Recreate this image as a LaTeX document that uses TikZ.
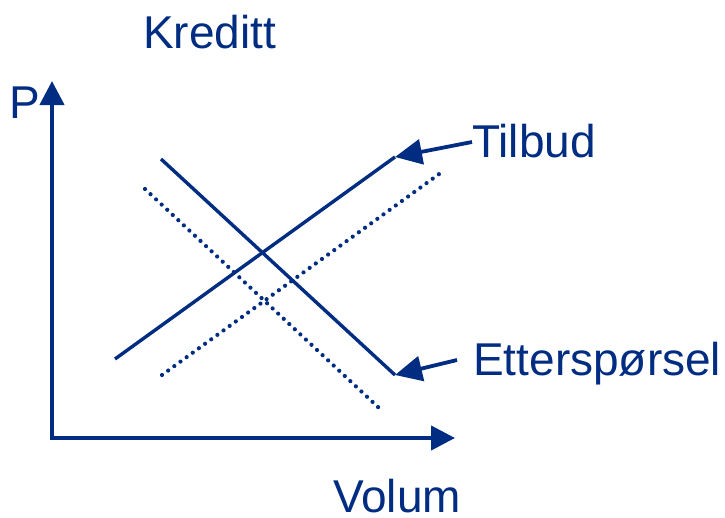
\documentclass[tikz,border=0pt]{standalone}
\usepackage{fontspec}
\setmainfont{Liberation Sans}
\usetikzlibrary{arrows.meta}
\definecolor{navy}{RGB}{0,44,130}
\begin{document}
\begin{tikzpicture}[x=1pt,y=-1pt,
  lbl/.style={anchor=base west,inner sep=0pt,text=navy,font=\fontsize{46}{55}\selectfont},
  axis/.style={draw=navy,line width=4.2pt,-{Triangle[length=24pt,width=24pt]}},
  curve/.style={draw=navy,line width=3.4pt},
  shifted/.style={draw=navy,line width=4.2pt,line cap=round,dash pattern=on 0pt off 7.6pt},
  pointer/.style={draw=navy,line width=3.8pt,-{Triangle[length=27pt,width=25pt]}}]
  \useasboundingbox (0,0) rectangle (725,517);

  % axes
  \coordinate (origin) at (52,438);
  \coordinate (ytop) at (52,81);
  \coordinate (xend) at (455,438);
  \draw[axis] ([yshift=2.1pt]origin) -- (ytop);
  \draw[axis] ([xshift=-2.1pt]origin) -- (xend);

  % labels
  \node[lbl] (title) at (143,48) {Kreditt};
  \node[lbl] (p) at (9,118) {P};
  \node[lbl] (vol) at (333,512) {Volum};
  \node[lbl] (tilbud) at (472,157) {Tilbud};
  \node[lbl] (ettersp) at (473,375) {Etterspørsel};

  % supply and demand
  \coordinate (s0) at (115,359);
  \coordinate (s1) at (395,157);
  \coordinate (d0) at (161,159);
  \coordinate (d1) at (395,375);
  \draw[curve] (s0) -- (s1);
  \draw[curve] (d0) -- (d1);

  % shifted curves
  \coordinate (ss0) at (162,375);
  \coordinate (ss1) at (440.5,173);
  \coordinate (dd0) at (145,189);
  \coordinate (dd1) at (378.5,407.5);
  \draw[shifted] (ss0) -- (ss1);
  \draw[shifted] (dd0) -- (dd1);

  % pointers from the labels
  \coordinate (tp) at (472,142);
  \coordinate (ep) at (457,360);
  \draw[pointer] (tp) -- (s1);
  \draw[pointer] (ep) -- (d1);
\end{tikzpicture}
\end{document}
